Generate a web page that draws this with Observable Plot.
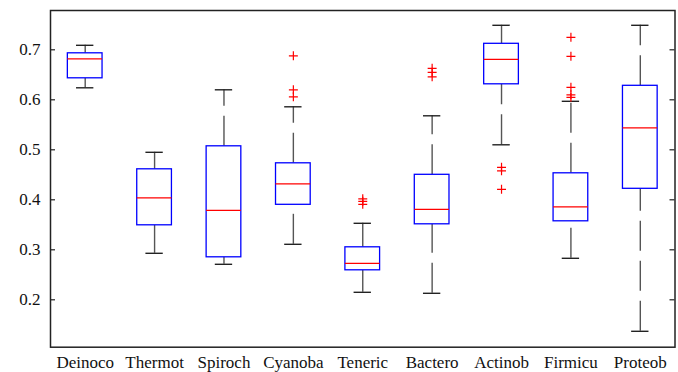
<!DOCTYPE html>
<html>
<head>
<meta charset="utf-8">
<script src="https://cdn.jsdelivr.net/npm/d3@7"></script>
<script src="https://cdn.jsdelivr.net/npm/@observablehq/plot@0.6"></script>
<style>
  html, body { margin: 0; padding: 0; background: #fff; }
  #chart svg { display: block; }
  #chart svg, #chart svg text { font-family: "Liberation Serif", "Times New Roman", serif !important; }
</style>
</head>
<body>
<div id="chart"></div>
<script>
const categories = ["Deinoco", "Thermot", "Spiroch", "Cyanoba", "Teneric", "Bactero", "Actinob", "Firmicu", "Proteob"];
const whiskerLow  = [0.624, 0.293, 0.271, 0.311, 0.215, 0.213, 0.510, 0.283, 0.137];
const q1          = [0.643, 0.349, 0.285, 0.390, 0.259, 0.351, 0.631, 0.357, 0.422];
const medians     = [0.682, 0.404, 0.379, 0.432, 0.273, 0.381, 0.681, 0.386, 0.544];
const q3          = [0.693, 0.461, 0.507, 0.473, 0.305, 0.450, 0.712, 0.453, 0.628];
const whiskerHigh = [0.709, 0.495, 0.620, 0.586, 0.353, 0.568, 0.749, 0.597, 0.749];
const outlierCat  = ["Cyanoba", "Cyanoba", "Cyanoba", "Teneric", "Teneric", "Teneric", "Bactero", "Bactero", "Bactero", "Actinob", "Actinob", "Actinob", "Firmicu", "Firmicu", "Firmicu", "Firmicu", "Firmicu"];
const outlierVal  = [0.688, 0.620, 0.606, 0.402, 0.397, 0.391, 0.663, 0.655, 0.646, 0.465, 0.458, 0.421, 0.725, 0.687, 0.625, 0.610, 0.605];
const yTicks = [0.2, 0.3, 0.4, 0.5, 0.6, 0.7];

const boxes = categories.map((c, i) => ({
  pos: i + 1, name: c, lo: whiskerLow[i], q1: q1[i], med: medians[i], q3: q3[i], hi: whiskerHigh[i]
}));
const outliers = outlierCat.map((c, i) => ({pos: categories.indexOf(c) + 1, v: outlierVal[i]}));

const hw = 0.25, cw = 0.125;
const tickLen = 5 / ((678 - 50 - 3.5) / 9);
const serif = "Liberation Serif, Times New Roman, serif";

const chart = Plot.plot({
  width: 678,
  height: 372,
  marginLeft: 50,
  marginRight: 3.5,
  marginTop: 10,
  marginBottom: 25.3,
  style: {fontFamily: serif, fontSize: "17px", color: "#111", background: "#fff"},
  x: {type: "linear", domain: [0.5, 9.5]},
  y: {domain: [0.1052, 0.7786]},
  marks: [
    Plot.ruleX(boxes, {x: "pos", y1: "lo", y2: "q1", stroke: "#555", strokeWidth: 1.4, strokeDasharray: "30,10"}),
    Plot.ruleX(boxes, {x: "pos", y1: "q3", y2: "hi", stroke: "#555", strokeWidth: 1.4, strokeDasharray: "30,10"}),
    Plot.ruleY(boxes, {y: "lo", x1: d => d.pos - cw, x2: d => d.pos + cw, stroke: "#222", strokeWidth: 1.4}),
    Plot.ruleY(boxes, {y: "hi", x1: d => d.pos - cw, x2: d => d.pos + cw, stroke: "#222", strokeWidth: 1.4}),
    Plot.rect(boxes, {x1: d => d.pos - hw, x2: d => d.pos + hw, y1: "q1", y2: "q3", fill: "white", stroke: "#0000ff", strokeWidth: 1.3}),
    Plot.ruleY(boxes, {y: "med", x1: d => d.pos - hw, x2: d => d.pos + hw, stroke: "#ff0000", strokeWidth: 1.3}),
    Plot.dot(outliers, {x: "pos", y: "v", symbol: "plus", r: 3, stroke: "#ff0000", strokeWidth: 1.2}),
    Plot.ruleY(yTicks, {y: d => d, x1: 0.5, x2: 0.5 + tickLen, stroke: "#222", strokeWidth: 1.2}),
    Plot.ruleY(yTicks, {y: d => d, x1: 9.5 - tickLen, x2: 9.5, stroke: "#222", strokeWidth: 1.2}),
    Plot.axisY({ticks: yTicks, tickSize: 0, tickPadding: 10, tickFormat: d3.format(".1f"), fontSize: 17, fontFamily: serif, label: null}),
    Plot.axisX({ticks: d3.range(1, 10), tickSize: 0, tickPadding: 9, tickFormat: d => categories[d - 1], fontSize: 17, fontFamily: serif, label: null}),
    Plot.frame({stroke: "#222", strokeWidth: 1.5})
  ]
});
document.getElementById("chart").appendChild(chart);
</script>
</body>
</html>
